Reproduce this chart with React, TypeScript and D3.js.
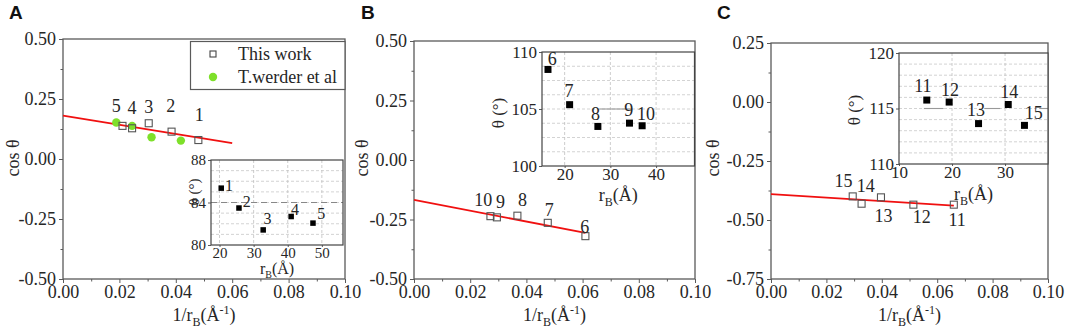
import React, { useEffect, useRef } from "react";
import * as d3 from "d3";

// ---------- panel A ----------
const xA_work = [0.0211, 0.0245, 0.0304, 0.0385, 0.048];
const yA_work = [0.138, 0.128, 0.149, 0.114, 0.079];
const xA_werder = [0.0189, 0.0245, 0.0314, 0.0418];
const yA_werder = [0.152, 0.138, 0.0905, 0.0766];
const fitA_x = [0, 0.06];
const fitA_y = [0.181, 0.066];
const labelsA = [
  ["5", 0.0189, 0.219],
  ["4", 0.0245, 0.212],
  ["3", 0.0304, 0.216],
  ["2", 0.0382, 0.221],
  ["1", 0.0483, 0.184],
];
const rA = [20.5, 25.7, 32.8, 41.0, 47.4];
const thA = [85.35, 83.48, 81.42, 82.68, 82.06];
const insetLabelsA = [
  ["1", 22.75, 85.58],
  ["2", 27.96, 84.13],
  ["3", 34.06, 82.5],
  ["4", 42.1, 83.3],
  ["5", 49.8, 83.0],
];

// ---------- panel B ----------
const xB_work = [0.0272, 0.0295, 0.0368, 0.0476, 0.061];
const yB_work = [-0.236, -0.241, -0.234, -0.264, -0.32];
const fitB_x = [0, 0.061];
const fitB_y = [-0.168, -0.306];
const labelsB = [
  ["10", 0.0246, -0.17],
  ["9", 0.0308, -0.176],
  ["8", 0.0386, -0.17],
  ["7", 0.0481, -0.211],
  ["6", 0.0608, -0.283],
];
const rB = [16.36, 21.09, 27.27, 34.18, 36.95];
const thB = [108.47, 105.38, 103.47, 103.76, 103.53];
const insetLabelsB = [
  ["6", 17.3, 109.35],
  ["7", 20.95, 106.56],
  ["8", 26.76, 104.6],
  ["9", 34.0, 104.9],
  ["10", 37.8, 104.6],
];

// ---------- panel C ----------
const xC_work = [0.0295, 0.0327, 0.0397, 0.0514, 0.066];
const yC_work = [-0.4, -0.431, -0.404, -0.435, -0.435];
const fitC_x = [0, 0.066];
const fitC_y = [-0.39, -0.439];
const labelsC = [
  ["15", 0.0262, -0.336],
  ["14", 0.0342, -0.357],
  ["13", 0.0406, -0.482],
  ["12", 0.0544, -0.487],
  ["11", 0.0672, -0.499],
];
const rC = [15.24, 19.46, 25.0, 30.6, 33.66];
const thC = [115.76, 115.58, 113.64, 115.36, 113.48];
const insetLabelsC = [
  ["11", 14.5, 117.03],
  ["12", 19.6, 116.7],
  ["13", 24.5, 114.85],
  ["14", 30.8, 116.5],
  ["15", 35.4, 114.6],
];

// reference lines inside the insets
const refA = [[17.5, 56.2]];
const refB = [[27.6, 34.5]];
const refC = [[14.7, 18.4], [26.1, 29.1], [36.5, 38.1]];

const mainXTicks = [0, 0.02, 0.04, 0.06, 0.08, 0.1];

const SERIF = "'Liberation Serif', 'Times New Roman', serif";
const TXT = "#262626";
const AX = "#5a5a5a";

const zip = (xs: number[], ys: number[]) => xs.map((v, i) => [v, ys[i]]);

const panels = [
  {
    letter: "A", letterX: 9, titleX: 19,
    left: 63, right: 345, top: 39, bottom: 279,
    yDomain: [-0.5, 0.5], yTicks: [-0.5, -0.25, 0, 0.25, 0.5], yMinor: 0.125,
    work: zip(xA_work, yA_work), werder: zip(xA_werder, yA_werder),
    fit: zip(fitA_x, fitA_y), labels: labelsA,
    inset: {
      left: 211, right: 343, top: 160, bottom: 245,
      xDomain: [17.5, 56.2], yDomain: [80, 88],
      xTicks: [20, 30, 40, 50], yTicks: [80, 84, 88], yGrid: 1,
      pts: zip(rA, thA), labels: insetLabelsA, ref: refA, refY: 84, refDash: true,
      font: 15, marker: 5.5, thX: 194, thY: 192, rbY: 274,
    },
  },
  {
    letter: "B", letterX: 361, titleX: 368,
    left: 414, right: 695, top: 41, bottom: 279,
    yDomain: [-0.5, 0.5], yTicks: [-0.5, -0.25, 0, 0.25, 0.5], yMinor: 0.125,
    work: zip(xB_work, yB_work), werder: [],
    fit: zip(fitB_x, fitB_y), labels: labelsB,
    inset: {
      left: 542, right: 694.5, top: 52, bottom: 166,
      xDomain: [15.05, 48.4], yDomain: [100, 110],
      xTicks: [20, 30, 40], yTicks: [100, 105, 110], yGrid: 1.25,
      pts: zip(rB, thB), labels: insetLabelsB, ref: refB, refY: 105, refDash: false,
      font: 17, marker: 7, thX: 498, thY: 113, rbY: 201,
    },
  },
  {
    letter: "C", letterX: 717, titleX: 719,
    left: 771, right: 1048, top: 43, bottom: 279,
    yDomain: [-0.75, 0.25], yTicks: [-0.75, -0.5, -0.25, 0, 0.25], yMinor: 0.125,
    work: zip(xC_work, yC_work), werder: [],
    fit: zip(fitC_x, fitC_y), labels: labelsC,
    inset: {
      left: 899, right: 1048, top: 53, bottom: 164,
      xDomain: [10, 38.1], yDomain: [110, 120],
      xTicks: [10, 20, 30], yTicks: [110, 115, 120], yGrid: 1,
      pts: zip(rC, thC), labels: insetLabelsC, ref: refC, refY: 115, refDash: false,
      font: 17, marker: 7, thX: 854, thY: 110, rbY: 200,
    },
  },
];

function styleAxis(sel: any, font: number) {
  sel.select(".domain").remove();
  sel.selectAll(".tick line").attr("stroke", AX).attr("stroke-width", 1);
  sel
    .selectAll(".tick text")
    .attr("fill", TXT)
    .attr("font-family", SERIF)
    .style("font-family", SERIF)
    .style("font-size", `${font}px`);
}

function subText(g: any, x: number, y: number, size: number, parts: [string, string][], rotate = false) {
  const t = g
    .append("text")
    .attr("x", x)
    .attr("y", y)
    .attr("text-anchor", "middle")
    .attr("fill", TXT)
    .style("font-family", SERIF)
    .style("font-size", `${size}px`);
  if (rotate) t.attr("transform", `rotate(-90, ${x}, ${y})`);
  let shift = 0;
  parts.forEach(([s, kind]) => {
    const sp = t.append("tspan").text(s);
    const target = kind === "sub" ? size * 0.25 : kind === "sup" ? -size * 0.4 : 0;
    sp.attr("dy", target - shift);
    shift = target;
    if (kind !== "n") sp.style("font-size", `${Math.round(size * 0.65)}px`);
  });
  return t;
}

function drawPanel(svg: any, p: any) {
  const g = svg.append("g");
  const x = d3.scaleLinear().domain([0, 0.1]).range([p.left, p.right]);
  const y = d3.scaleLinear().domain(p.yDomain).range([p.bottom, p.top]);

  // panel letter
  g.append("text")
    .attr("x", p.letterX)
    .attr("y", 19)
    .attr("fill", "#111")
    .style("font-family", "'Liberation Sans', Arial, sans-serif")
    .style("font-weight", "bold")
    .style("font-size", "19px")
    .text(p.letter);

  // minor ticks
  const xMinor = d3.range(0.01, 0.1, 0.02);
  g.append("g")
    .attr("transform", `translate(0,${p.bottom})`)
    .call(d3.axisBottom(x).tickValues(xMinor).tickSize(2.5).tickFormat(() => ""))
    .call((s: any) => styleAxis(s, 10));
  const yMinor = d3.range(p.yDomain[0] + p.yMinor, p.yDomain[1], p.yMinor * 2);
  g.append("g")
    .attr("transform", `translate(${p.left},0)`)
    .call(d3.axisLeft(y).tickValues(yMinor).tickSize(2.5).tickFormat(() => ""))
    .call((s: any) => styleAxis(s, 10));

  // major axes
  g.append("g")
    .attr("transform", `translate(0,${p.bottom})`)
    .call(d3.axisBottom(x).tickValues(mainXTicks).tickSize(4).tickPadding(2).tickFormat((d: any) => d.toFixed(2)))
    .call((s: any) => styleAxis(s, 18));
  g.append("g")
    .attr("transform", `translate(${p.left},0)`)
    .call(d3.axisLeft(y).tickValues(p.yTicks).tickSize(4).tickPadding(3).tickFormat((d: any) => d.toFixed(2)))
    .call((s: any) => styleAxis(s, 18));

  // frame
  g.append("rect")
    .attr("x", p.left)
    .attr("y", p.top)
    .attr("width", p.right - p.left)
    .attr("height", p.bottom - p.top)
    .attr("fill", "none")
    .attr("stroke", AX)
    .attr("stroke-width", 1.3);

  // axis titles
  subText(g, p.titleX, 158, 18, [["cos θ", "n"]], true);
  subText(g, (p.left + p.right) / 2, 321, 18, [
    ["1/r", "n"],
    ["B", "sub"],
    ["(Å", "n"],
    ["-1", "sup"],
    [")", "n"],
  ]);

  // fit line
  g.append("path")
    .attr("d", d3.line().x((d: any) => x(d[0])).y((d: any) => y(d[1]))(p.fit))
    .attr("fill", "none")
    .attr("stroke", "#f01010")
    .attr("stroke-width", 1.8);

  // werder points
  g.selectAll(".werder")
    .data(p.werder)
    .join("circle")
    .attr("cx", (d: any) => x(d[0]))
    .attr("cy", (d: any) => y(d[1]))
    .attr("r", 4.2)
    .attr("fill", "#7ee02a");

  // this work squares
  const s = 7;
  g.selectAll(".work")
    .data(p.work)
    .join("rect")
    .attr("x", (d: any) => x(d[0]) - s / 2)
    .attr("y", (d: any) => y(d[1]) - s / 2)
    .attr("width", s)
    .attr("height", s)
    .attr("fill", "none")
    .attr("stroke", "#555")
    .attr("stroke-width", 1.1);

  g.selectAll(".lab")
    .data(p.labels)
    .join("text")
    .attr("x", (d: any) => x(d[1]))
    .attr("y", (d: any) => y(d[2]))
    .attr("text-anchor", "middle")
    .attr("dominant-baseline", "central")
    .attr("fill", TXT)
    .style("font-family", SERIF)
    .style("font-size", "18px")
    .text((d: any) => d[0]);

  drawInset(g, p.inset);
}

function drawInset(g: any, q: any) {
  const x = d3.scaleLinear().domain(q.xDomain).range([q.left, q.right]);
  const y = d3.scaleLinear().domain(q.yDomain).range([q.bottom, q.top]);
  const ig = g.append("g");

  ig.append("rect")
    .attr("x", q.left)
    .attr("y", q.top)
    .attr("width", q.right - q.left)
    .attr("height", q.bottom - q.top)
    .attr("fill", "#fff");

  // grid
  const hGrid = d3.range(q.yDomain[0] + q.yGrid, q.yDomain[1] - 0.01, q.yGrid);
  ig.selectAll(".hg")
    .data(hGrid)
    .join("line")
    .attr("x1", q.left)
    .attr("x2", q.right)
    .attr("y1", (d: number) => y(d))
    .attr("y2", (d: number) => y(d))
    .attr("stroke", "#c8c8c8")
    .attr("stroke-width", 0.8)
    .attr("stroke-dasharray", "3,2");
  ig.selectAll(".vg")
    .data(q.xTicks.filter((d: number) => x(d) > q.left + 1 && x(d) < q.right - 1))
    .join("line")
    .attr("x1", (d: number) => x(d))
    .attr("x2", (d: number) => x(d))
    .attr("y1", q.top)
    .attr("y2", q.bottom)
    .attr("stroke", "#c0c0c0")
    .attr("stroke-width", 0.8)
    .attr("stroke-dasharray", "3,2");

  // reference line segments
  ig.selectAll(".ref")
    .data(q.ref)
    .join("line")
    .attr("x1", (d: number[]) => x(d[0]))
    .attr("x2", (d: number[]) => x(d[1]))
    .attr("y1", y(q.refY))
    .attr("y2", y(q.refY))
    .attr("stroke", q.refDash ? "#888" : "#999")
    .attr("stroke-width", 1.1)
    .attr("stroke-dasharray", q.refDash ? "6,4" : null);

  // axes
  ig.append("g")
    .attr("transform", `translate(0,${q.bottom})`)
    .call(d3.axisBottom(x).tickValues(q.xTicks).tickSize(2).tickPadding(0).tickFormat(d3.format("d")))
    .call((s: any) => styleAxis(s, q.font));
  ig.append("g")
    .attr("transform", `translate(${q.left},0)`)
    .call(d3.axisLeft(y).tickValues(q.yTicks).tickSize(3).tickPadding(2).tickFormat(d3.format("d")))
    .call((s: any) => styleAxis(s, q.font));

  ig.append("rect")
    .attr("x", q.left)
    .attr("y", q.top)
    .attr("width", q.right - q.left)
    .attr("height", q.bottom - q.top)
    .attr("fill", "none")
    .attr("stroke", "#444")
    .attr("stroke-width", 1.2);

  // points
  const m = q.marker;
  ig.selectAll(".ip")
    .data(q.pts)
    .join("rect")
    .attr("x", (d: any) => x(d[0]) - m / 2)
    .attr("y", (d: any) => y(d[1]) - m / 2)
    .attr("width", m)
    .attr("height", m)
    .attr("fill", "#000");

  ig.selectAll(".il")
    .data(q.labels)
    .join("text")
    .attr("x", (d: any) => x(d[1]))
    .attr("y", (d: any) => y(d[2]))
    .attr("text-anchor", "middle")
    .attr("dominant-baseline", "central")
    .attr("fill", TXT)
    .style("font-family", SERIF)
    .style("font-size", `${q.font + 1}px`)
    .text((d: any) => d[0]);

  subText(ig, q.thX, q.thY, q.font, [["θ (°)", "n"]], true).attr("dominant-baseline", "central");
  subText(ig, (q.left + q.right) / 2, q.rbY, q.font + 1, [
    ["r", "n"],
    ["B", "sub"],
    ["(Å)", "n"],
  ]);
}

function drawLegend(svg: any) {
  const g = svg.append("g");
  g.append("rect")
    .attr("x", 190.5)
    .attr("y", 41.5)
    .attr("width", 154.5)
    .attr("height", 48)
    .attr("fill", "#fff")
    .attr("stroke", AX)
    .attr("stroke-width", 1.2);
  g.append("rect")
    .attr("x", 210)
    .attr("y", 51)
    .attr("width", 6)
    .attr("height", 6)
    .attr("fill", "none")
    .attr("stroke", "#444")
    .attr("stroke-width", 1.1);
  g.append("circle").attr("cx", 213).attr("cy", 77).attr("r", 4.2).attr("fill", "#7ee02a");
  ["This work", "T.werder et al"].forEach((t, i) => {
    g.append("text")
      .attr("x", 238)
      .attr("y", 60 + i * 23)
      .attr("fill", TXT)
      .style("font-family", SERIF)
      .style("font-size", "18px")
      .text(t);
  });
}

export default function App() {
  const ref = useRef<SVGSVGElement | null>(null);

  useEffect(() => {
    document.body.style.margin = "0";
    const svg = d3.select(ref.current);
    svg.selectAll("*").remove();
    svg.append("rect").attr("width", 1065).attr("height", 332).attr("fill", "#fff");
    panels.forEach((p, i) => {
      drawPanel(svg, p);
      if (i === 0) drawLegend(svg);
    });
  }, []);

  return <svg ref={ref} width={1065} height={332} style={{ display: "block" }} />;
}
